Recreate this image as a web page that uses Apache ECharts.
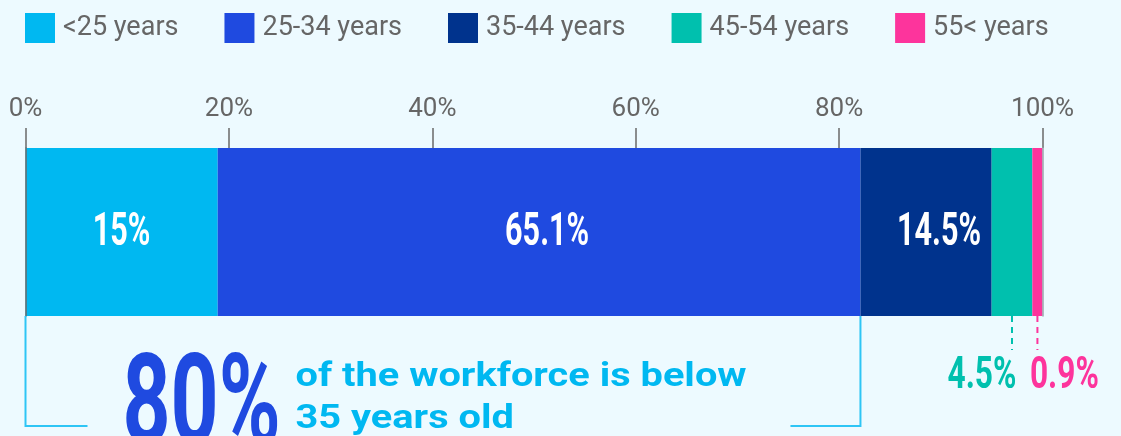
<!DOCTYPE html>
<html>
<head>
<meta charset="utf-8">
<script src="https://cdn.jsdelivr.net/npm/echarts@6/dist/echarts.min.js"></script>
<style>
html,body{margin:0;padding:0;background:#edfaff;}
#chart{width:1121px;height:436px;}
</style>
</head>
<body>
<div id="chart"></div>
<script>
// ---- data ----
const categories = ['Workforce'];
const seriesNames = ['<25 years', '25-34 years', '35-44 years', '45-54 years', '55< years'];
const barValues = [18.9, 63.2, 12.9, 4.0, 1.0];          // segment widths as drawn (% of axis)
const labelTexts = ['15%', '65.1%', '14.5%', '4.5%', '0.9%'];
const axisTicks = [0, 20, 40, 60, 80, 100];
const calloutValue = '80%';
const calloutLines = ['of the workforce is below', '35 years old'];
const calloutSpan = 2; // bracket covers the first two age groups

// ---- style ----
const colors = ['#00b8f1', '#1f4ae0', '#00338d', '#00c0ae', '#fd349c'];
const gridLeft = 25.5, gridRight = 78.5, gridTop = 148, gridHeight = 168;
const insideOffsets = [0, 8, 13, -30, 27];

const chart = echarts.init(document.getElementById('chart'), null, {renderer: 'canvas'});

const series = seriesNames.map((name, i) => ({
  name: name,
  type: 'bar',
  stack: 'total',
  barWidth: '100%',
  itemStyle: {color: colors[i]},
  label: {show: false},
  data: [barValues[i]]
}));

chart.setOption({
  backgroundColor: '#edfaff',
  animation: false,
  legend: {
    left: 20, top: 8,
    icon: 'rect',
    itemWidth: 30, itemHeight: 30,
    itemGap: 46,
    textStyle: {fontFamily: 'Roboto', fontSize: 27, color: '#666666', padding: [0, 0, 0, 3]},
    data: seriesNames
  },
  grid: {left: gridLeft, right: gridRight, top: gridTop, height: gridHeight, containLabel: false},
  xAxis: {
    type: 'value', position: 'top',
    min: axisTicks[0], max: axisTicks[axisTicks.length - 1], interval: axisTicks[1] - axisTicks[0],
    axisLine: {show: false},
    axisTick: {show: true, length: 20, lineStyle: {color: '#6a6a6a', width: 1.5}},
    splitLine: {show: false},
    axisLabel: {formatter: '{value}%', fontFamily: 'Roboto', fontSize: 26, color: '#666666', margin: 26}
  },
  yAxis: [
    {type: 'category', data: categories, position: 'left',
     axisLine: {show: true, lineStyle: {color: '#6a6a6a', width: 1.5}},
     axisTick: {show: false}, axisLabel: {show: false}, z: 5},
    {type: 'category', data: categories, position: 'right',
     axisLine: {show: true, lineStyle: {color: '#9aa7ad', width: 1.5}},
     axisTick: {show: false}, axisLabel: {show: false}, z: 5}
  ],
  series: series
});

// ---- labels and annotations positioned through the axes ----
function px(v) { return chart.convertToPixel({xAxisIndex: 0, yAxisIndex: 0}, [v, 0]); }
const barMid = px(0)[1];
const barBottom = barMid + gridHeight / 2;
const cum = [];
barValues.reduce((s, v, i) => { cum[i] = s + v; return s + v; }, 0);

const bracketColor = '#2ec5f5';
const bracketBottom = barBottom + 110;
const xStart = px(0)[0];
const xEnd = px(cum[calloutSpan - 1])[0];
const graphics = [
  {type: 'polyline', z: 100, shape: {points: [[xStart, barBottom], [xStart, bracketBottom], [xStart + 62, bracketBottom]]},
   style: {stroke: bracketColor, lineWidth: 2, fill: null}},
  {type: 'polyline', z: 100, shape: {points: [[xEnd, barBottom], [xEnd, bracketBottom], [xEnd - 70, bracketBottom]]},
   style: {stroke: bracketColor, lineWidth: 2, fill: null}},
  {type: 'text', z: 100, x: xStart + 97, y: barBottom + 32, scaleX: 0.66,
   style: {text: calloutValue, fill: colors[1], font: "bold 127px Roboto", textVerticalAlign: 'top'}},
  {type: 'text', z: 100, x: xStart + 270, y: barBottom + 40, scaleX: 1.17,
   style: {text: calloutLines.join('\n'), fill: colors[0], font: "bold 34px Roboto", lineHeight: 42, textVerticalAlign: 'top'}}
];
labelTexts.forEach((t, i) => {
  const xc = px(cum[i] - barValues[i] / 2)[0];
  if (i < 3) {
    graphics.push({type: 'text', z: 100, x: xc + insideOffsets[i], y: barMid + 1, scaleX: 0.65,
      style: {text: t, fill: '#ffffff', font: "bold 47px Roboto", textAlign: 'center', textVerticalAlign: 'middle'}});
  } else {
    graphics.push({type: 'line', z: 100, shape: {x1: xc, y1: barBottom, x2: xc, y2: barBottom + 34},
      style: {stroke: colors[i], lineWidth: 2, lineDash: [6, 5]}});
    graphics.push({type: 'text', z: 100, x: xc + insideOffsets[i], y: barBottom + 61, scaleX: 0.72,
      style: {text: t, fill: colors[i], font: "bold 44px Roboto", textAlign: 'center', textVerticalAlign: 'middle'}});
  }
});
chart.setOption({graphic: graphics});
</script>
</body>
</html>
